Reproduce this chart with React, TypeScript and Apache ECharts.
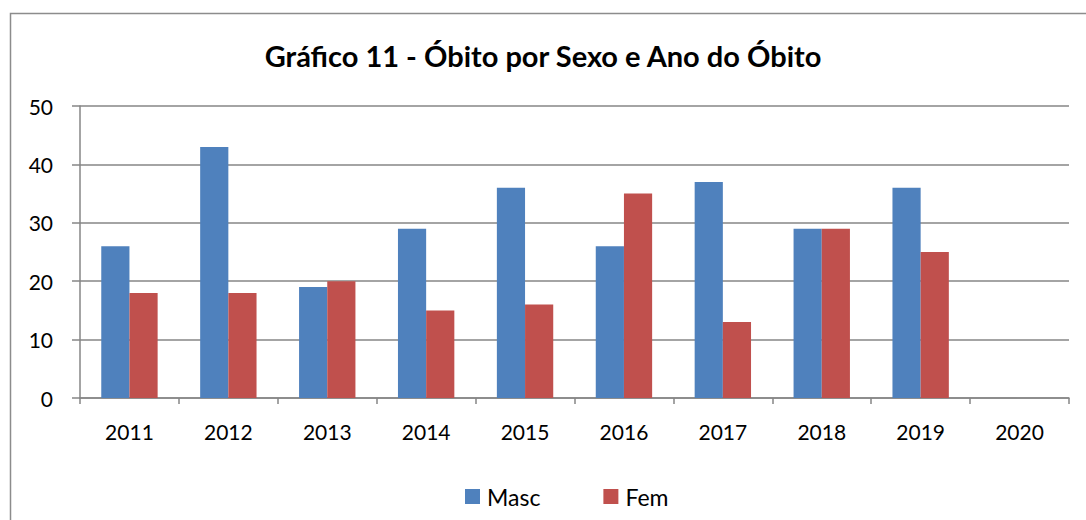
import React, { useEffect, useRef } from "react";
import * as echarts from "echarts";

const titleText = "Gráfico 11 - Óbito por Sexo e Ano do Óbito";
const years = ["2011", "2012", "2013", "2014", "2015", "2016", "2017", "2018", "2019", "2020"];
const masc = [26, 43, 19, 29, 36, 26, 37, 29, 36, null];
const fem = [18, 18, 20, 15, 16, 35, 13, 29, 25, null];
const yTicks = { min: 0, max: 50, interval: 10 };

const FONT = "Lato, 'Open Sans', sans-serif";
const AXIS_COLOR = "#868686";

export default function App() {
  const ref = useRef<HTMLDivElement>(null);
  useEffect(() => {
    document.body.style.margin = "0";
    const chart = echarts.init(ref.current!, null, { renderer: "svg" });
    chart.setOption({
      animation: false,
      backgroundColor: "#ffffff",
      textStyle: { fontFamily: FONT },
      title: {
        text: titleText,
        left: "center",
        top: 36,
        textStyle: { fontFamily: FONT, fontWeight: "bold", fontSize: 29, color: "#000" },
      },
      graphic: [
        {
          type: "rect",
          shape: { x: 10.5, y: 13.5, width: 1100, height: 540 },
          style: { fill: "none", stroke: "#8c8c8c", lineWidth: 1.5 },
          silent: true,
        },
      ],
      legend: {
        top: 480,
        left: 460,
        itemWidth: 15,
        itemHeight: 15,
        itemGap: 63,
        icon: "rect",
        textStyle: { fontFamily: FONT, fontSize: 23, color: "#000", padding: [0, 0, 0, 2] },
        data: ["Masc", "Fem"],
      },
      grid: { left: 80, top: 106, right: 17, bottom: 122, containLabel: false },
      xAxis: {
        type: "category",
        data: years,
        axisLine: { lineStyle: { color: AXIS_COLOR, width: 1.5 } },
        axisTick: { show: true, length: 6, lineStyle: { color: AXIS_COLOR, width: 1.5 } },
        axisLabel: { fontFamily: FONT, fontSize: 21, color: "#000", margin: 23 },
      },
      yAxis: {
        type: "value",
        min: yTicks.min,
        max: yTicks.max,
        interval: yTicks.interval,
        axisLine: { show: true, lineStyle: { color: AXIS_COLOR, width: 1.5 } },
        axisTick: { show: true, length: 8, lineStyle: { color: AXIS_COLOR, width: 1.5 } },
        axisLabel: { fontFamily: FONT, fontSize: 21, color: "#000", margin: 27 },
        splitLine: { lineStyle: { color: AXIS_COLOR, width: 1.5 } },
      },
      series: [
        {
          name: "Masc",
          type: "bar",
          data: masc,
          itemStyle: { color: "#4F81BD" },
          barGap: "0%",
          barCategoryGap: "43%",
        },
        {
          name: "Fem",
          type: "bar",
          data: fem,
          itemStyle: { color: "#C0504D" },
          barGap: "0%",
          barCategoryGap: "43%",
        },
      ],
    });
    return () => chart.dispose();
  }, []);
  return <div ref={ref} style={{ width: 1086, height: 520 }} />;
}
